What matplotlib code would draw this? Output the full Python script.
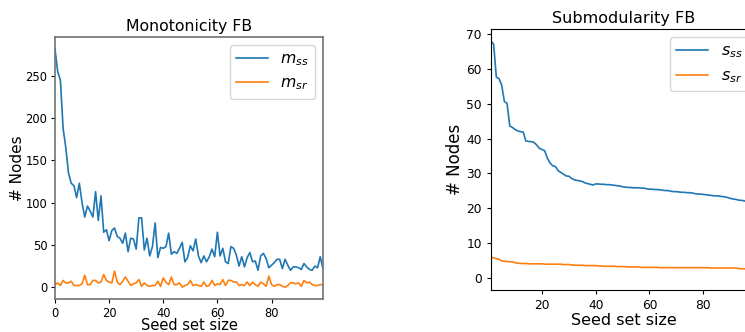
import matplotlib

matplotlib.use("Agg")
import matplotlib.pyplot as plt

# ---- Monotonicity FB (seed set size 0..99) ----
mono_x = list(range(0, 100))
m_ss = [
    282, 255, 245, 188, 165, 135, 123, 120, 106, 123,
    100, 83, 96, 90, 83, 113, 79, 108, 65, 68,
    55, 67, 70, 60, 58, 52, 64, 42, 58, 57,
    45, 82, 82, 44, 58, 37, 48, 76, 35, 47,
    46, 48, 64, 39, 42, 40, 46, 53, 30, 35,
    49, 43, 57, 37, 29, 37, 30, 36, 45, 36,
    65, 37, 46, 30, 28, 48, 46, 38, 25, 36,
    24, 35, 41, 30, 31, 20, 37, 40, 34, 23,
    26, 29, 33, 33, 22, 33, 26, 20, 24, 24,
    23, 21, 28, 24, 21, 20, 25, 23, 36, 22,
]
m_sr = [
    3, 5, 2, 8, 5, 5, 7, 2, 2, 2,
    4, 14, 3, 3, 8, 8, 5, 6, 15, 8,
    6, 5, 19, 6, 3, 7, 12, 7, 2, 4,
    5, 9, 1, 5, 2, 1, 2, 2, 7, 1,
    11, 6, 3, 12, 3, 3, 5, 0, 2, 3,
    8, 2, 3, 2, 1, 6, 1, 2, 8, 2,
    4, 3, 9, 2, 8, 8, 6, 6, 2, 3,
    2, 6, 2, 6, 3, 1, 6, 4, 1, 13,
    3, 1, 3, 3, 1, 0, 2, 5, 5, 4,
    5, 1, 8, 5, 6, 3, 2, 2, 3, 3,
]

# ---- Submodularity FB (seed set size 1..99) ----
sub_x = list(range(1, 100))
s_ss = [
    68.0, 67.0, 57.6, 57.2, 55.3, 50.6, 50.1, 43.6, 43.2, 42.6,
    42.2, 42.0, 41.9, 39.3, 39.2, 39.1, 38.9, 38.2, 37.2, 36.9,
    36.5, 34.4, 33.0, 32.2, 32.0, 30.8, 30.3, 29.8, 29.3, 29.2,
    28.6, 28.2, 28.0, 27.9, 27.7, 27.3, 27.1, 26.9, 26.7, 27.0,
    27.0, 26.9, 26.9, 26.8, 26.8, 26.7, 26.6, 26.5, 26.4, 26.2,
    26.1, 26.0, 26.0, 25.9, 25.9, 25.9, 25.8, 25.8, 25.6, 25.5,
    25.5, 25.4, 25.4, 25.3, 25.2, 25.1, 25.1, 24.9, 24.8, 24.8,
    24.7, 24.6, 24.6, 24.5, 24.5, 24.4, 24.2, 24.1, 24.1, 24.0,
    23.9, 23.8, 23.7, 23.6, 23.6, 23.5, 23.4, 23.3, 23.1, 22.9,
    22.7, 22.6, 22.4, 22.3, 22.2, 22.0, 21.8, 21.7, 21.5,
]
s_sr = [
    6.0, 5.8, 5.6, 5.4, 5.0, 4.8, 4.8, 4.7, 4.7, 4.4,
    4.3, 4.2, 4.2, 4.2, 4.1, 4.1, 4.1, 4.1, 4.1, 4.1,
    4.0, 4.0, 4.0, 4.0, 4.0, 4.0, 4.0, 3.9, 3.9, 3.9,
    3.8, 3.7, 3.7, 3.7, 3.7, 3.6, 3.6, 3.6, 3.6, 3.6,
    3.5, 3.5, 3.4, 3.4, 3.4, 3.4, 3.4, 3.3, 3.3, 3.3,
    3.3, 3.2, 3.2, 3.2, 3.2, 3.2, 3.1, 3.1, 3.1, 3.1,
    3.1, 3.1, 3.1, 3.0, 3.0, 3.0, 3.0, 3.0, 3.0, 3.0,
    3.0, 3.0, 3.0, 3.0, 3.0, 3.0, 3.0, 3.0, 3.0, 3.0,
    3.0, 3.0, 2.9, 2.9, 2.9, 2.9, 2.9, 2.9, 2.9, 2.9,
    2.9, 2.9, 2.8, 2.7, 2.7, 2.6, 2.6, 2.5, 2.5,
]

BLUE = "#1f77b4"
ORANGE = "#ff7f0e"


def main():
    fig = plt.figure(figsize=(7.45, 3.32), dpi=100)

    # left panel
    ax_l = fig.add_axes([0.0738, 0.0994, 0.3597, 0.789])
    ax_l.plot(mono_x, m_ss, color=BLUE, lw=1.2, label="$m_{ss}$")
    ax_l.plot(mono_x, m_sr, color=ORANGE, lw=1.2, label="$m_{sr}$")
    ax_l.set_xlim(0, 99)
    ax_l.set_ylim(-14, 296)
    ax_l.set_xticks([0, 20, 40, 60, 80])
    ax_l.set_yticks([0, 50, 100, 150, 200, 250])
    ax_l.tick_params(labelsize=8.3, length=3, pad=2.5)
    for sp in ax_l.spines.values():
        sp.set_color("0.45")
        sp.set_linewidth(1.2)
    ax_l.set_title("Monotonicity FB", fontsize=11.3, pad=4)
    ax_l.set_xlabel("Seed set size", fontsize=10.5, labelpad=-1)
    ax_l.set_ylabel("# Nodes", fontsize=11, labelpad=0)
    ax_l.legend(loc="upper right", fontsize=11.3, handlelength=2.0)

    # right panel (runs off the right edge of the figure)
    ax_r = fig.add_axes([0.659, 0.1265, 0.357, 0.786])
    ax_r.plot(sub_x, s_ss, color=BLUE, lw=1.2, label="$s_{ss}$")
    ax_r.plot(sub_x, s_sr, color=ORANGE, lw=1.2, label="$s_{sr}$")
    ax_r.set_xlim(1, 100)
    ax_r.set_ylim(-3.4, 71.4)
    ax_r.set_xticks([20, 40, 60, 80])
    ax_r.set_yticks([0, 10, 20, 30, 40, 50, 60, 70])
    ax_r.tick_params(labelsize=8.8, length=3)
    ax_r.set_title("Submodularity FB", fontsize=11.5, pad=4)
    ax_r.set_xlabel("Seed set size", fontsize=11.5, labelpad=1)
    ax_r.set_ylabel("# Nodes", fontsize=12, labelpad=2)
    ax_r.legend(loc="upper right", fontsize=11.5, handlelength=2.0)

    fig.savefig("out.png", dpi=100)


if __name__ == "__main__":
    main()
